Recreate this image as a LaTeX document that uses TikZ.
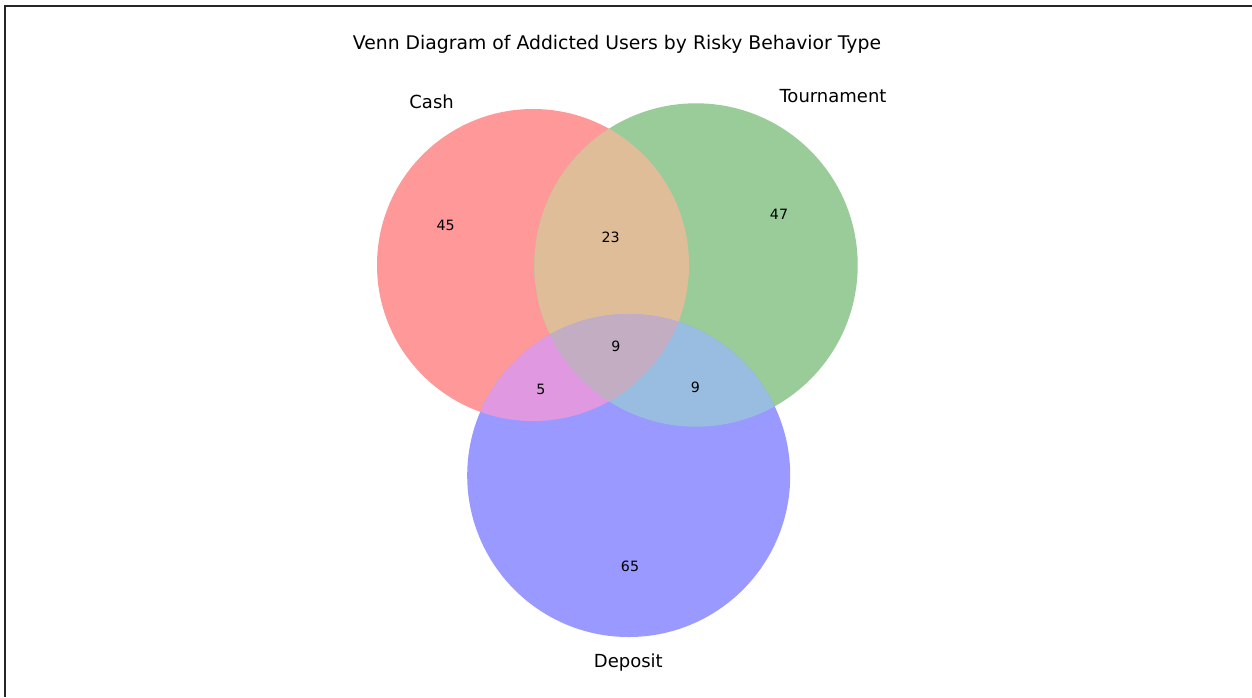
\documentclass[tikz,border=0pt]{standalone}
\usepackage{fontspec}
\setmainfont{DejaVu Sans}
\definecolor{cashcol}{RGB}{255,153,153}
\definecolor{tourcol}{RGB}{153,204,153}
\definecolor{depcol}{RGB}{153,153,255}
\definecolor{ctcol}{RGB}{224,189,153}
\definecolor{cdcol}{RGB}{224,153,224}
\definecolor{tdcol}{RGB}{153,189,224}
\definecolor{allcol}{RGB}{194,173,194}
\begin{document}
\begin{tikzpicture}[x=1pt,y=-1pt,
  titletext/.style={font=\fontsize{18.8}{22}\selectfont, inner sep=0pt},
  setlabel/.style={font=\fontsize{18}{22}\selectfont, inner sep=0pt},
  numlabel/.style={font=\fontsize{14.2}{16}\selectfont, inner sep=0pt},
  frameline/.style={line width=2pt, black!85}]
\useasboundingbox (0,0) rectangle (1252,697);
\fill[white] (0,0) rectangle (1252,697);
% frame (top and left edges)
\coordinate (fa) at (1252,5.5);
\coordinate (fb) at (4.8,5.5);
\coordinate (fc) at (4.8,697);
\draw[frameline] (fa) -- (fb) -- (fc);
% circles
\def\cashcirc{(533,265) circle (156pt)}
\def\tourcirc{(696,265) circle (161.7pt)}
\def\depcirc{(628.7,475.5) circle (161.5pt)}
\fill[cashcol] \cashcirc;
\fill[tourcol] \tourcirc;
\fill[depcol] \depcirc;
\begin{scope}
  \clip \cashcirc;
  \fill[ctcol] \tourcirc;
  \fill[cdcol] \depcirc;
\end{scope}
\begin{scope}
  \clip \tourcirc;
  \fill[tdcol] \depcirc;
\end{scope}
\begin{scope}
  \clip \cashcirc;
  \clip \tourcirc;
  \fill[allcol] \depcirc;
\end{scope}
% texts
\node[titletext] (title) at (617,44) {Venn Diagram of Addicted Users by Risky Behavior Type};
\node[setlabel] (cash) at (431.6,102) {Cash};
\node[setlabel] (tour) at (833,96) {Tournament};
\node[setlabel] (dep) at (628.3,662.5) {Deposit};
\node[numlabel] (n100) at (445.7,225) {45};
\node[numlabel] (n110) at (610.7,237.5) {23};
\node[numlabel] (n010) at (779,214.5) {47};
\node[numlabel] (n111) at (616,346) {9};
\node[numlabel] (n101) at (541,389.5) {5};
\node[numlabel] (n011) at (695.5,387.5) {9};
\node[numlabel] (n001) at (630,566) {65};
\end{tikzpicture}
\end{document}
